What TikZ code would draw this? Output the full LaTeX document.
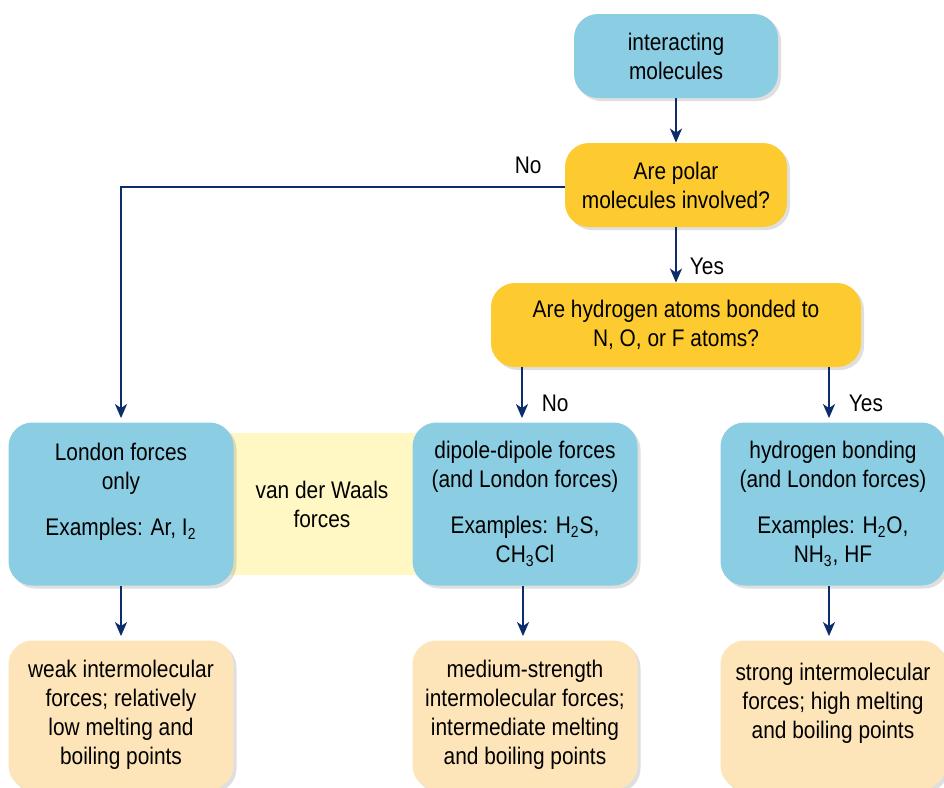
\documentclass[tikz,border=0pt]{standalone}
\usepackage{fontspec}
\setmainfont{Liberation Sans}[FakeStretch=0.87]
\usepackage{tikz}
\usetikzlibrary{arrows.meta,positioning,calc,shadows}
\definecolor{flowBlue}{HTML}{8BCDE2}
\definecolor{flowGold}{HTML}{FDCB2F}
\definecolor{flowPale}{HTML}{FFF8C4}
\definecolor{flowPeach}{HTML}{FDE4B9}
\definecolor{flowNavy}{HTML}{0B2D6B}

\begin{document}
\begin{tikzpicture}[x=0.5pt, y=-0.5pt, font=\fontsize{12}{14.5}\selectfont,
  >={Stealth[length=7pt,width=6pt,inset=2pt]},
  box/.style={rounded corners=12pt, align=center, inner sep=0pt,
    drop shadow={shadow xshift=1.5pt, shadow yshift=-1.5pt, opacity=0.25}},
  start/.style={box, fill=flowBlue, minimum width=102pt, minimum height=42pt},
  ask/.style={box, fill=flowGold, minimum height=42pt},
  kind/.style={box, fill=flowBlue, minimum width=112.5pt, minimum height=81.5pt},
  result/.style={box, fill=flowPeach, minimum width=112.5pt, minimum height=74.5pt},
  link/.style={flowNavy, line width=1.2pt, ->},
  answer/.style={text=black}]
\useasboundingbox (0,0) rectangle (944,788);
\clip (0,0) rectangle (944,788);
% questions
\node[start] (mol) at (676,56) {interacting\\molecules};
\node[ask, minimum width=111pt] (pol) at (676,185) {Are polar\\molecules involved?};
\node[ask, minimum width=185pt] (hyd) at (676,325) {Are hydrogen atoms bonded to\\N, O, or F atoms?};
% kinds of forces
\node[fill=flowPale, minimum width=97.5pt, minimum height=71pt, align=center]
  (vdw) at (322,504) {van der Waals\\forces};
\node[kind] (lon) at (121,504) {London forces\\only\\[8.5pt]Examples: Ar, I\textsubscript{2}\\ };
\node[kind] (dip) at (525,504) {dipole-dipole forces\\(and London forces)\\[8.5pt]Examples: H\textsubscript{2}S,\\CH\textsubscript{3}Cl};
\node[kind] (hbd) at (833,504) {hydrogen bonding\\(and London forces)\\[8.5pt]Examples: H\textsubscript{2}O,\\NH\textsubscript{3}, HF};
% results
\node[result] (weak) at (121,715) {weak intermolecular\\forces; relatively\\low melting and\\boiling points};
\node[result] (mid) at (525,715) {medium-strength\\intermolecular forces;\\intermediate melting\\and boiling points};
\node[result] (strong) at (833,715) {strong intermolecular\\forces; high melting\\and boiling points\\ };
% connectors
\coordinate (bend) at (121,187);
\draw[link] (mol) -- (pol);
\draw[link] (pol) -- node[answer, right=3pt, pos=0.7]{Yes} (hyd);
\draw[link] (pol.west |- bend) -- (bend) -- ([yshift=2pt]lon.north);
\node[above left=3pt and 8pt] (no1) at (pol.west |- bend) {No};
\draw[link] (hyd.south -| 522,0) -- node[answer, right=6pt, pos=0.7]{No} ([yshift=2pt]dip.north -| 522,0);
\draw[link] (hyd.south -| 829,0) -- node[answer, right=6pt, pos=0.7]{Yes} ([yshift=2pt]hbd.north -| 829,0);
\draw[link] (lon) -- ([yshift=2pt]weak.north);
\draw[link] (dip.south -| 523,0) -- ([yshift=2pt]mid.north -| 523,0);
\draw[link] (hbd.south -| 829,0) -- ([yshift=2pt]strong.north -| 829,0);
\end{tikzpicture}
\end{document}
